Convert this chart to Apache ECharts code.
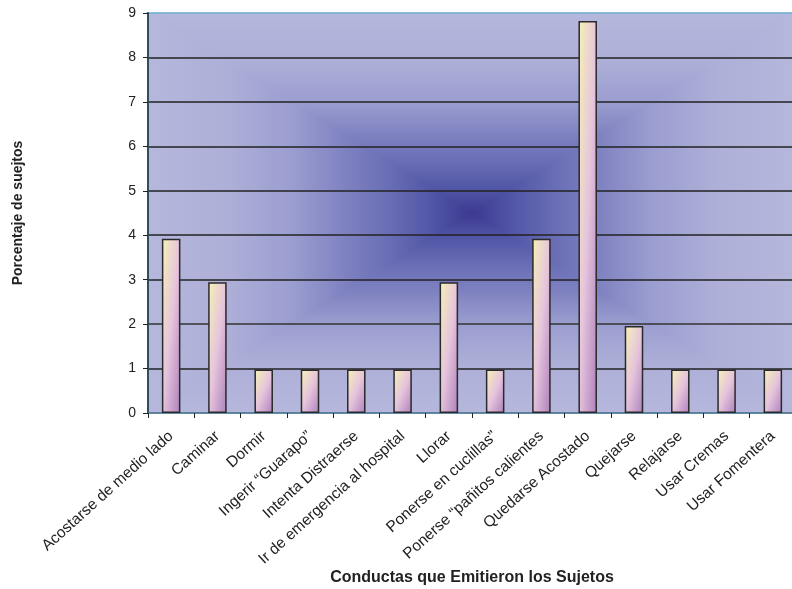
<!DOCTYPE html>
<html>
<head>
<meta charset="utf-8">
<script src="https://cdn.jsdelivr.net/npm/echarts@6/dist/echarts.min.js"></script>
<style>
  html, body { margin: 0; padding: 0; background: #ffffff; }
  #chart { width: 792px; height: 589px; }
</style>
</head>
<body>
<div id="chart"></div>
<script>
// Behaviours reported by the subjects
var conductas = [
  'Acostarse de medio lado', 'Caminar', 'Dormir', 'Ingerir \u201cGuarapo\u201d',
  'Intenta Distraerse', 'Ir de emergencia al hospital', 'Llorar',
  'Ponerse en cuclillas\u201d', 'Ponerse \u201cpa\u00f1itos calientes',
  'Quedarse Acostado', 'Quejarse', 'Relajarse', 'Usar Cremas', 'Usar Fomentera'
];
// Percentage of subjects for each behaviour
var porcentajes = [3.92, 2.94, 0.98, 0.98, 0.98, 0.98, 2.94, 0.98, 3.92, 8.82, 1.96, 0.98, 0.98, 0.98];
var yTicks = [0, 1, 2, 3, 4, 5, 6, 7, 8, 9];

var G = { left: 148, top: 13, width: 648, height: 400 };
var cx = G.left + G.width / 2, cy = G.top + G.height / 2;
var L = G.left, T = G.top, R = G.left + G.width, B = G.top + G.height;
var yMin = yTicks[0], yMax = yTicks[yTicks.length - 1];
var BAR_RATIO = 0.4;

// "from center" rectangular shading of the plot area
var stops = [
  { offset: 0, color: '#b5b7dc' },
  { offset: 0.25, color: '#adafd8' },
  { offset: 0.45, color: '#9a9dcf' },
  { offset: 0.6, color: '#8083c1' },
  { offset: 0.75, color: '#686cb4' },
  { offset: 0.88, color: '#5055a6' },
  { offset: 1, color: '#3d3890' }
];
function grad(x, y, x2, y2) {
  return new echarts.graphic.LinearGradient(x, y, x2, y2, stops);
}
var bgPieces = [
  { pts: [[L, T], [R, T], [cx, cy]], fill: grad(0, 0, 0, 1) },
  { pts: [[L, B], [R, B], [cx, cy]], fill: grad(0, 1, 0, 0) },
  { pts: [[L, T], [L, B], [cx, cy]], fill: grad(0, 0, 1, 0) },
  { pts: [[R, T], [R, B], [cx, cy]], fill: grad(1, 0, 0, 0) }
].map(function (p) {
  return {
    type: 'polygon', z: -10, silent: true,
    shape: { points: p.pts },
    style: { fill: p.fill, stroke: p.fill, lineWidth: 1.2 }
  };
});

// Diagonal bar shading: colour bands run corner to corner of each bar
function barGradient(value) {
  var w = G.width / conductas.length * BAR_RATIO;
  var h = (value - yMin) / (yMax - yMin) * G.height;
  var d = h * h + w * w;
  return new echarts.graphic.LinearGradient(0, 0, 2 * h * h / d, 2 * w * w / d, [
    { offset: 0, color: '#f6f2b6' },
    { offset: 0.5, color: '#e6c4dc' },
    { offset: 1, color: '#ac80bc' }
  ]);
}
var barData = porcentajes.map(function (v) {
  return { value: v, itemStyle: { color: barGradient(v) } };
});

var font = '"Liberation Sans", Arial, sans-serif';
var chart = echarts.init(document.getElementById('chart'), null, { renderer: 'canvas' });
chart.setOption({
  animation: false,
  backgroundColor: '#ffffff',
  graphic: bgPieces,
  grid: {
    left: G.left, top: G.top, width: G.width, height: G.height,
    containLabel: false, outerBoundsMode: 'none'
  },
  xAxis: {
    type: 'category',
    data: conductas,
    name: 'Conductas que Emitieron los Sujetos',
    nameLocation: 'middle',
    nameGap: 157,
    nameMoveOverlap: false,
    nameTextStyle: { fontFamily: font, fontWeight: 'bold', fontSize: 16, color: '#222' },
    axisLine: { show: true, lineStyle: { color: '#3d6d86', width: 1.5 } },
    axisTick: { show: true, alignWithLabel: false, length: 5, lineStyle: { color: '#222', width: 1 } },
    axisLabel: {
      interval: 0, rotate: 42, margin: 21,
      fontFamily: font, fontSize: 15.5, color: '#222'
    }
  },
  yAxis: {
    type: 'value',
    min: yMin, max: yMax, interval: 1,
    name: 'Porcentaje de suejtos',
    nameLocation: 'middle',
    nameGap: 123,
    nameTextStyle: { fontFamily: font, fontWeight: 'bold', fontSize: 14, color: '#222' },
    axisLine: { show: true, lineStyle: { color: '#2f4e5e', width: 2 } },
    axisTick: { show: true, length: 5, lineStyle: { color: '#222' } },
    axisLabel: { fontFamily: font, fontSize: 14, color: '#222', margin: 12 },
    splitLine: {
      show: true,
      lineStyle: {
        width: 1.5,
        color: ['transparent', '#222', '#333', '#222', '#222', '#222', '#222', '#222', '#222', '#6cb2d2']
      }
    }
  },
  series: [{
    type: 'bar',
    data: barData,
    barWidth: (BAR_RATIO * 100) + '%',
    itemStyle: { borderColor: '#2a2a2a', borderWidth: 1.5 }
  }]
});
</script>
</body>
</html>
